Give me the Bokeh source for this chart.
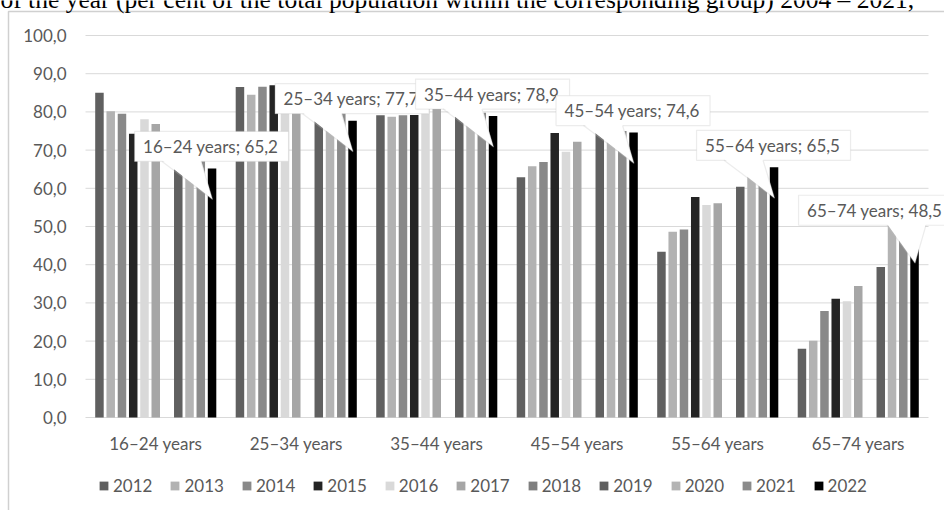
from bokeh.plotting import figure
from bokeh.models import (Range1d, Legend, LegendItem, PolyAnnotation,
                          ColumnDataSource, Label)
from bokeh.core.properties import value
from bokeh.embed import file_html
from bokeh.resources import INLINE

# ---- data -------------------------------------------------------------
groups = ["16–24 years", "25–34 years", "35–44 years",
          "45–54 years", "55–64 years", "65–74 years"]
years = ["2012", "2013", "2014", "2015", "2016", "2017",
         "2018", "2019", "2020", "2021", "2022"]

NA = float("nan")
v2012 = [85.0, 86.5, 79.1, 62.9, 43.4, 18.0]
v2013 = [80.2, 84.5, 78.7, 65.8, 48.6, 20.1]
v2014 = [79.5, 86.6, 79.1, 66.9, 49.2, 27.9]
v2015 = [74.3, 87.0, 79.2, 74.5, 57.7, 31.1]
v2016 = [78.1, 83.5, 81.0, 69.6, 55.6, 30.4]
v2017 = [76.8, 84.0, 80.8, 72.2, 56.1, 34.4]
v2018 = [NA, NA, NA, NA, NA, NA]
v2019 = [69.0, 81.0, 79.5, 76.5, 60.4, 39.4]
v2020 = [70.5, 82.0, 80.5, 76.0, 64.0, 52.0]
v2021 = [68.0, 80.0, 79.8, 75.0, 63.5, 49.5]
v2022 = [65.2, 77.7, 78.9, 74.6, 65.5, 48.5]
series = [v2012, v2013, v2014, v2015, v2016, v2017,
          v2018, v2019, v2020, v2021, v2022]

y_ticks = list(range(0, 101, 10))
y_tick_labels = [f"{t:.1f}".replace(".", ",") for t in y_ticks]

title_text = ("of the year (per cent of the total population within the "
              "corresponding group) 2004 – 2021,")

# ---- style ------------------------------------------------------------
colors = ["#606060", "#b2b2b2", "#898989", "#242424", "#d9d9d9", "#a6a6a6",
          "#7f7f7f", "#606060", "#b4b4b4", "#8b8b8b", "#000000"]
TEXT = "#595959"
FONT = "Lato"
W, H = 944, 510
# plot area inside the canvas (pixels)
AREA_L, AREA_R, AREA_T, AREA_B = 85, 928, 35, 417
PX_X = (AREA_R - AREA_L) / len(groups)   # pixels per age group
PX_Y = (AREA_B - AREA_T) / 100.0         # pixels per percentage point
SLOT = 11.26 / PX_X                      # distance between neighbouring bars
BAR_W = 8.5 / PX_X


def dx(px):
    return px / PX_X


def dy(px):
    return px / PX_Y


def sx(px):   # canvas pixel column -> x data
    return -0.5 + (px - AREA_L) / PX_X


def sy(py):   # canvas pixel row -> y data
    return (AREA_B - py) / PX_Y


p = figure(width=W, height=H, x_range=Range1d(sx(0), sx(W)),
           y_range=Range1d(sy(H), sy(0)), output_backend="svg",
           toolbar_location=None, x_axis_location=None,
           y_axis_location=None, min_border=0)
p.outline_line_color = None
p.background_fill_color = "white"
p.border_fill_color = "white"
p.grid.visible = False

# outer chart frame and the caption line above it
p.line(x=[sx(8), sx(8), sx(980)], y=[sy(540), sy(11), sy(11)],
       line_color="#d0d0d0", line_width=1.5)
p.text(x=[sx(0)], y=[sy(-1)], text=[title_text], text_align="left",
       text_baseline="alphabetic", text_font=value("Liberation Serif"),
       text_font_size=value("25.5px"), text_color="black")

# horizontal gridlines and value labels
p.segment(x0=[sx(AREA_L)] * len(y_ticks), x1=[sx(AREA_R)] * len(y_ticks),
          y0=y_ticks, y1=y_ticks, line_color="#d9d9d9", line_width=1)
p.text(x=[sx(66)] * len(y_ticks), y=y_ticks, text=y_tick_labels,
       text_align="right", text_baseline="middle",
       text_font=value(FONT), text_font_size=value("17px"),
       text_color=TEXT)

# category labels
p.text(x=list(range(len(groups))), y=[sy(432)] * len(groups), text=groups,
       text_align="center", text_baseline="top",
       text_font=value(FONT), text_font_size=value("17px"),
       text_color=TEXT)

# bars (missing years stay in the source as NaN and are not drawn)
legend_items = []
for j, (yr, vals) in enumerate(zip(years, series)):
    src = ColumnDataSource(dict(x=[g + (j - 5) * SLOT for g in range(len(vals))],
                                top=list(vals)))
    r = p.vbar(x="x", top="top", bottom=0, width=BAR_W, source=src,
               fill_color=colors[j], line_color=None)
    legend_items.append(LegendItem(label=yr, renderers=[r]))

legend = Legend(items=legend_items, orientation="horizontal",
                location=(98, 14), glyph_width=11, glyph_height=11,
                label_standoff=4, spacing=17, padding=0, margin=0,
                border_line_color=None, background_fill_alpha=0,
                label_text_font=FONT, label_text_font_size="17px",
                label_text_color=TEXT)
p.add_layout(legend)

# callouts on the 2022 bars
box_shift = [0, 0, 0, 0, 0, -38.5]
tail_base = [(-50, -11)] * 5 + [(-27.6, 11.4)]
BORDER = "#bfbfbf"
for g, val in enumerate(v2022):
    bx = g + 5 * SLOT
    bottom = val + dy(7)
    top = bottom + dy(30)
    left = bx + dx(-77.5 + box_shift[g])
    right = bx + dx(76.5 + box_shift[g])
    tip_x, tip_y = bx + dx(0.5), val - dy(31)
    bl, br = bx + dx(tail_base[g][0]), bx + dx(tail_base[g][1])

    p.add_layout(PolyAnnotation(xs=[left, right, right, left],
                                ys=[bottom, bottom, top, top],
                                fill_color="white", fill_alpha=1,
                                line_color=BORDER, line_width=1.2))
    p.add_layout(PolyAnnotation(xs=[bl, tip_x, br],
                                ys=[bottom + dy(1.5), tip_y, bottom + dy(1.5)],
                                fill_color="white", fill_alpha=1,
                                line_alpha=0))
    p.add_layout(PolyAnnotation(xs=[bl, tip_x, br, tip_x],
                                ys=[bottom, tip_y, bottom, tip_y],
                                fill_alpha=0, line_color=BORDER,
                                line_width=1.2))
    txt = f"{groups[g]}; {val:.1f}".replace(".", ",")
    p.add_layout(Label(x=left + dx(8.5), y=(bottom + top) / 2, text=txt,
                       text_baseline="middle", text_align="left",
                       text_font=FONT, text_font_size="17px",
                       text_color=TEXT))

open("out.html", "w").write(file_html(p, INLINE))
